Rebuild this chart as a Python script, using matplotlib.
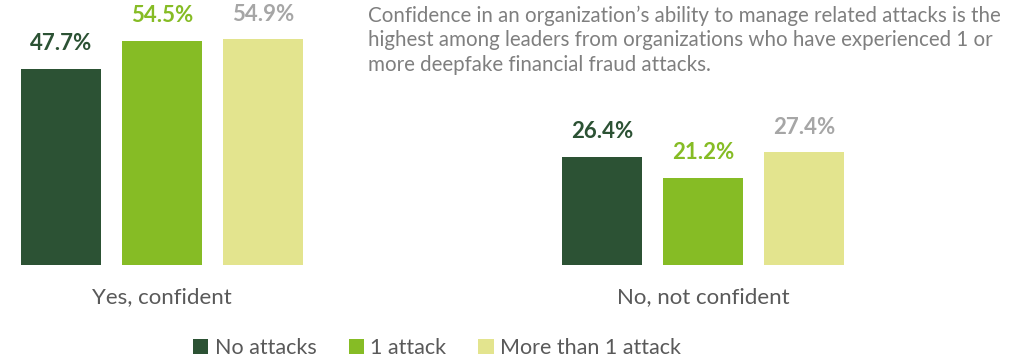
import numpy as np
import matplotlib.pyplot as plt
from matplotlib.patches import Patch

plt.rcParams['font.family'] = ['Lato', 'DejaVu Sans']

# survey answers and the share of leaders for each attack history
categories = ["Yes, confident", "No, not confident"]
series = ["No attacks", "1 attack", "More than 1 attack"]
values = {
    "No attacks": [47.7, 26.4],
    "1 attack": [54.5, 21.2],
    "More than 1 attack": [54.9, 27.4],
}
note_lines = [
    "Confidence in an organization\u2019s ability to manage related attacks is the",
    "highest among leaders from organizations who have experienced 1 or",
    "more deepfake financial fraud attacks.",
]

bar_colors = ["#2c5234", "#86bc25", "#e3e48e"]
label_colors = ["#2c5234", "#86bc25", "#a6a6a6"]

W, H = 1015, 361
fig = plt.figure(figsize=(W / 100, H / 100), dpi=100)
ax = fig.add_axes([0, (H - 265) / H, 1, 265 / H])

group_x = np.array([0.0, 5.356])
width = 0.79
for i, name in enumerate(series):
    xs = group_x + (i - 1) * 1.0
    bars = ax.bar(xs, values[name], width=width, color=bar_colors[i])
    for b, v in zip(bars, values[name]):
        ax.annotate(f"{v:.1f}%", xy=(b.get_x() + b.get_width() / 2, v),
                    xytext=(0, 13.5), textcoords="offset points",
                    ha="center", va="baseline", fontsize=16,
                    fontweight="bold", color=label_colors[i])

for x, cat in zip(group_x, categories):
    ax.annotate(cat, xy=(x, 0), xycoords=("data", "axes fraction"),
                xytext=(0, -27.5), textcoords="offset points",
                ha="center", va="baseline", fontsize=16, color="#595959")

ax.set_xlim(-1.604, -1.604 + W / 101)
ax.set_ylim(0, 64.5)
ax.axis("off")

for k, line in enumerate(note_lines):
    fig.text(368 / W, 1 - (22 + k * 24.5) / H, line, ha="left",
             va="baseline", fontsize=14.8, color="#7f7f7f")

handles = [Patch(facecolor=c, edgecolor="none") for c in bar_colors]
fig.legend(handles, series, loc="center", bbox_to_anchor=(437 / W, 1 - 348 / H),
           ncol=3, frameon=False, fontsize=15.5, handlelength=0.7,
           handleheight=0.7, handletextpad=0.3, columnspacing=1.5,
           labelcolor="#595959", borderpad=0)

fig.savefig("out.png", dpi=100)
